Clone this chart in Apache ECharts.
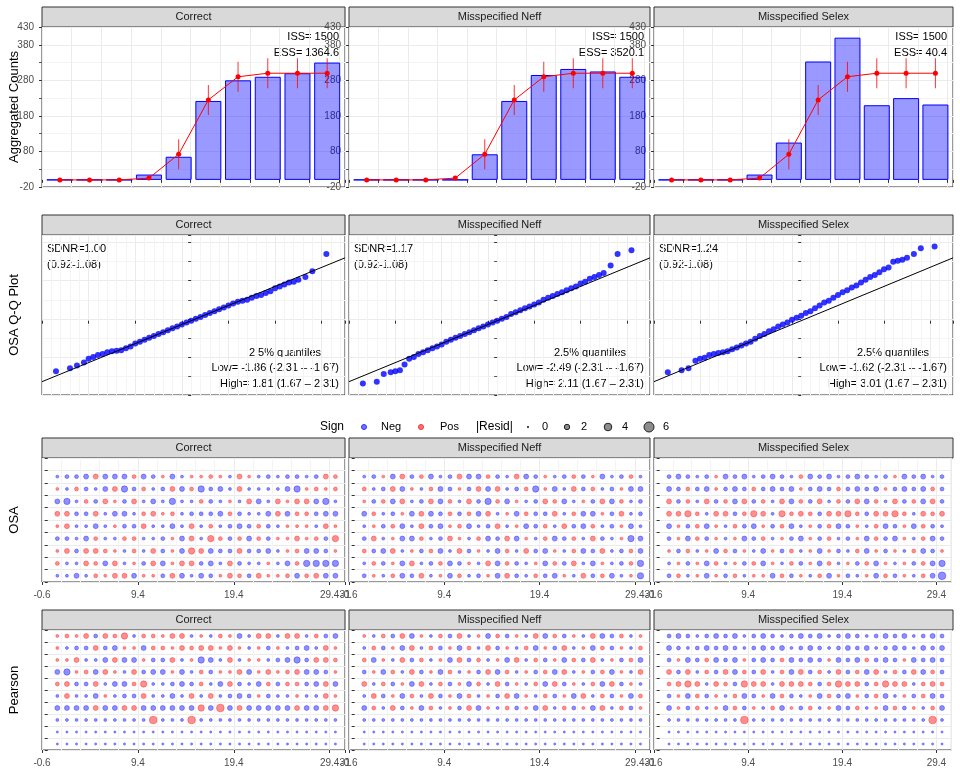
<!DOCTYPE html><html><head><meta charset="utf-8">
<script src="https://cdn.jsdelivr.net/npm/echarts@6/dist/echarts.min.js"></script>
<style>body{margin:0}#c{width:960px;height:768px}</style></head><body><div id="c"></div><script>
const panelTitles=["Correct","Misspecified Neff","Misspecified Selex"];
const ages=[1,2,3,4,5,6,7,8,9,10];
const obsCounts=[[0,0,0,15,65,222,280,290,300,330],[0,0,0,0,72,222,295,312,305,290],[0,0,0,15,105,333,400,210,230,212]];
const expCounts=[0,0,0,5,72,225,290,300,300,300];
const issTxt=["ISS= 1500","ISS= 1500","ISS= 1500"];
const essTxt=["ESS= 1364.6","ESS= 3520.1","ESS= 40.4"];
const qqTheo=[-2.9,-2.6,-2.45,-2.3,-2.2,-2.1,-2.0,-1.9,-1.8,-1.7,-1.6,-1.5,-1.4,-1.3,-1.2,-1.1,-1.0,-0.9,-0.8,-0.7,-0.6,-0.5,-0.4,-0.3,-0.2,-0.1,0,0.1,0.2,0.3,0.4,0.5,0.6,0.7,0.8,0.9,1.0,1.1,1.2,1.3,1.4,1.5,1.6,1.7,1.8,1.9,2.0,2.1,2.2,2.3,2.45,2.6,2.9];
const qqCorrect=[-2.65,-2.5,-2.35,-2.2,-2.0,-1.9,-1.8,-1.75,-1.65,-1.6,-1.58,-1.55,-1.45,-1.35,-1.2,-1.1,-1.0,-0.9,-0.8,-0.7,-0.6,-0.5,-0.4,-0.3,-0.2,-0.1,0.0,0.1,0.2,0.3,0.4,0.5,0.6,0.7,0.8,0.9,1.0,1.05,1.1,1.2,1.3,1.35,1.45,1.55,1.7,1.8,1.9,2.0,2.05,2.15,2.3,2.6,3.5];
const qqNeff=[-3.3,-3.2,-2.8,-2.7,-2.65,-2.6,-2.3,-2.0,-1.9,-1.75,-1.65,-1.55,-1.45,-1.35,-1.25,-1.1,-1.0,-0.9,-0.8,-0.7,-0.6,-0.5,-0.4,-0.3,-0.2,-0.1,0.0,0.1,0.2,0.35,0.45,0.55,0.65,0.75,0.85,0.95,1.1,1.2,1.3,1.4,1.5,1.6,1.7,1.8,1.95,2.05,2.2,2.3,2.4,2.5,2.9,3.5,3.7];
const qqSelex=[-2.7,-2.6,-2.5,-2.1,-2.0,-1.95,-1.8,-1.75,-1.7,-1.65,-1.6,-1.5,-1.4,-1.3,-1.2,-1.1,-0.95,-0.8,-0.7,-0.55,-0.45,-0.3,-0.2,-0.1,0.05,0.15,0.26,0.4,0.5,0.65,0.8,0.95,1.05,1.2,1.35,1.5,1.6,1.75,1.85,2.0,2.15,2.3,2.4,2.55,2.7,2.8,3.1,3.15,3.2,3.3,3.5,3.8,3.9];
const sdnrTxt=["SDNR=1.00","SDNR=1.17","SDNR=1.24"];
const lowTxt=["Low= -1.86 (-2.31 – -1.67)","Low= -2.49 (-2.31 – -1.67)","Low= -1.62 (-2.31 – -1.67)"];
const highTxt=["High= 1.81 (1.67 – 2.31)","High= 2.11 (1.67 – 2.31)","High= 3.01 (1.67 – 2.31)"];
// residual codes: rows are ages 10..1 ; '0' tiny, '1'-'5' positive levels, 'a'-'e' negative levels
const osaCorrect=["","abbc3ccc2cb1ca1121a31ababbab32","1a2bac3db2ab3c2dbca3aaaacd1212","cda2b31b3acadaa2ba1a3ca3133cda","33bb3acca2312abbbc2baac3c22bcc","13aaca1bb3aaca3a2abcb2ba111a31","bbac2aa22aab1c3a42b2c2b11312b4","13b3321a2a3b1c43cbb3bbca12ccb1","2aa32c3a1b3c133bca3baa1ac2dddd","aaca2133c11b3cacb132b3112c23cc"];
const osaNeff=["","ab1c3b2cab3cc2ba3cb1ab2b1cab2a","2ab3c1a2cb1b3c3ab2d1ca3b2ab1cc","1b2c3ab3c2a3bd2c1ab32ca1b3c2ab","c2ab1c3cb2b2c3a1c2bb3a2cc1b3ab","a1b2ca3bc12cab3a1cb2a3bc2ab1ca","b3a1cc2ab31a2cb3c1a2cb2a3ba1dc","2bc3a1b2ca3b1ac2a3bc1a2cb3ab2c","a2b1c3ab2cb1a3c2ba1c2b3ac1ab2d","b1a2cb3a1c2ab1c3ba2bc1a3b2ca1d"];
const osaSelex=["","bcbab1cbcabcba2cbcabcbab1cbcab","cb2bc1bcb2bcbc1bcb2bcbc1bcbc2b","3b2a3b2c3b2a3c2b3a2b3c2a3b2c3b","3342a33b243a4232b3342b3342a323","c1b2c1a2bc1b2ca1b2cb1a2cb1c2ba","b1c2b1a1cb2a1bc1b2ab1c2bc1a2cb","1b2a1c2b1ac1b2a1c1ba2c1b1a2cb1","a1b1c2a1b2c1a2b1c2a1b2c1a1b2cd","b2a1c1b2a11c2b1a2c1ba1c2b1a2ce"];
const pearCorrect=["1213b324a22133a1a21ca33a33a2bc","1abb3bc11c2213233131a1b1abca31","113aac3cc1bb3a1dca3a11abcdb332","cd12c31a3bcc1ca2b113c13123ccb1","23bb3acc24aabcb2ac3bac2b22bc3c","a3aac1abb3aaca3a3abcb1baa1aa31","cccc3cc33cccccc4c5c3ccccc3cc34","aaaaaaaaaa5aaa5aaaaaaaaaaaaaaa","000000000000000000000000000000","000000000000000000000000000000"];
const pearNeff=["1a2b3c1a2b3a1c2b1a3c2b1a3cb2a1","a2b1c3a2b1c2a3b1a2c1b3a1c2b1a2","2c1a3b2a1c3b2a1c3a2b1c2b3a1b2c","b1c2a3b1c2a1b3c2a1b2c3a1b2c1a3","3a2b1c3a2b1c2a3b1a2c3b1a2c3b1a","a3b1c2a3b1c2a1b3c1a2b1c3a2b1c2","c2a3b1c2a1b3c1a2b1c3a2b1c3a2b1","aaaaaaaaaaaaaaaaaaaaaaaaaaaaaa","000000000000000000000000000000","000000000000000000000000000000"];
const pearSelex=["bcbabcbcabcbabcbcabcbabcbcabcb","cbabcbcbabcbcabcbabcbcabcbacbc","b1cb2cbc1bcb2cbcb1cbc2bcb1cbcb","3b3a2b3c2b3a2c3b2a3b2c3a2b3c2b","2343a32b433a3332b2433b2433a232","b1c2b1a2cb1c2ba1c2bc1b2ca1b2cb","c1b2a1c2b1a2c1b2a1cb2a1c2b1a2c","aaaaaaaa5aaaaaaaaaaaaaaaaaaa5a","000000000000000000000000000000","000000000000000000000000000000"];

const qqSets=[qqCorrect,qqNeff,qqSelex];
const osaSets=[osaCorrect,osaNeff,osaSelex];
const pearSets=[pearCorrect,pearNeff,pearSelex];
const levels=[0.1,0.7,1.4,2.2,3.2,4.2];
function decode(rows){const out=[];rows.forEach((s,i)=>{const age=10-i;for(let k=0;k<s.length;k++){const ch=s[k];let v;if(ch==='0')v=-0.1;else if(ch>='1'&&ch<='5')v=levels[+ch];else v=-levels[ch.charCodeAt(0)-96];out.push([k+1,age,v]);}});return out;}
const colL=[42,349,654],colW=[303,301,299];
const rowT=[27,235,458,630],rowH=[160,160,124,120];
const grids=[],xs=[],ys=[],series=[],gfx=[];
const gl={show:true,lineStyle:{color:'#ebebeb'}};
const axLab={color:'#4d4d4d',fontSize:10,fontFamily:'Liberation Sans'};
function addPanel(r,c,xa,ya){const i=grids.length;grids.push({left:colL[c],top:rowT[r],width:colW[c],height:rowH[r],show:true,borderColor:'#333',borderWidth:1,backgroundColor:'#fff'});
xs.push(Object.assign({gridIndex:i,type:'value',splitLine:gl,minorTick:{show:false},minorSplitLine:{show:true,lineStyle:{color:'#f4f4f4'}},axisLine:{show:false},axisTick:{show:true,length:3,lineStyle:{color:'#333'}},axisLabel:axLab},xa));
ys.push(Object.assign({gridIndex:i,type:'value',splitLine:gl,minorSplitLine:{show:true,lineStyle:{color:'#f4f4f4'}},axisLine:{show:false},axisTick:{show:true,length:3,lineStyle:{color:'#333'}},axisLabel:axLab},ya));
gfx.push({type:'rect',shape:{x:colL[c],y:rowT[r]-20,width:colW[c],height:20},style:{fill:'#d9d9d9',stroke:'#333',lineWidth:1}});
gfx.push({type:'text',x:colL[c]+colW[c]/2,y:rowT[r]-10,style:{text:panelTitles[c],fill:'#1a1a1a',font:'11px Liberation Sans',align:'center',verticalAlign:'middle'}});
return i;}
const txtStyle={color:'#000',fontSize:11,fontFamily:'Liberation Sans'};
for(let c=0;c<3;c++){
 let i=addPanel(0,c,{min:0.4,max:10.6,interval:1,minorSplitLine:{show:false},axisLabel:Object.assign({},axLab,{formatter:v=>Number.isInteger(v)?v:''})},{min:-20,max:430,interval:100,minorTick:{show:true,splitNumber:2}});
 series.push({type:'bar',xAxisIndex:i,yAxisIndex:i,barWidth:26,data:ages.map((a,k)=>[a,obsCounts[c][k]]),itemStyle:{color:'rgba(0,0,255,0.4)',borderColor:'#0000ff',borderWidth:1},silent:true});
 series.push({type:'line',xAxisIndex:i,yAxisIndex:i,data:ages.map((a,k)=>[a,expCounts[k]]),lineStyle:{color:'#ff0000',width:1},itemStyle:{color:'#ff0000'},symbol:'circle',symbolSize:5,z:5});
 series.push({type:'scatter',xAxisIndex:i,yAxisIndex:i,data:ages.map((a,k)=>[a,expCounts[k]]),symbol:'rect',symbolSize:(v,p)=>[1,v[1]>50?30:4],itemStyle:{color:'#ff0000'},z:4});
 gfx.push({type:'text',x:colL[c]+colW[c]-6,y:rowT[0]+4,style:{text:issTxt[c],fill:'#000',font:'11px Liberation Sans',align:'right'}});
 gfx.push({type:'text',x:colL[c]+colW[c]-6,y:rowT[0]+20,style:{text:essTxt[c],fill:'#000',font:'11px Liberation Sans',align:'right'}});
 i=addPanel(1,c,{min:-3.2,max:3.3,interval:1,minorSplitLine:{show:true,lineStyle:{color:'#f4f4f4'}},axisLabel:Object.assign({},axLab,{formatter:v=>Number.isInteger(v)?v:''})},{min:-3.9,max:4.5,interval:2,minorTick:{show:true,splitNumber:2},axisLabel:Object.assign({},axLab,{formatter:v=>v%2===0?v:''})});
 series.push({type:'scatter',xAxisIndex:i,yAxisIndex:i,data:qqTheo.map((t,k)=>[t,qqSets[c][k]]),symbolSize:6,itemStyle:{color:'#0000ff'}});
 series.push({type:'line',xAxisIndex:i,yAxisIndex:i,data:[[-3.2,-3.2],[3.3,3.3]],symbol:'none',lineStyle:{color:'#000',width:1},silent:true});
 gfx.push({type:'text',x:colL[c]+5,y:rowT[1]+6,style:{text:sdnrTxt[c]+'\n(0.92-1.08)',fill:'#000',font:'11px Liberation Sans',lineHeight:16}});
 gfx.push({type:'text',x:colL[c]+colW[c]-60,y:rowT[1]+112,style:{text:'2.5% quantiles',fill:'#000',font:'11px Liberation Sans',align:'center'}});
 gfx.push({type:'text',x:colL[c]+colW[c]-6,y:rowT[1]+127,style:{text:lowTxt[c],fill:'#000',font:'11px Liberation Sans',align:'right'}});
 gfx.push({type:'text',x:colL[c]+colW[c]-6,y:rowT[1]+143,style:{text:highTxt[c],fill:'#000',font:'11px Liberation Sans',align:'right'}});
 [[2,osaSets[c]],[3,pearSets[c]]].forEach(([r,set])=>{
  const j=addPanel(r,c,{min:-0.6,max:31,interval:10,minorSplitLine:{show:true,lineStyle:{color:'#f4f4f4'}}},{min:0.5,max:10.5,interval:1,minorSplitLine:{show:false},axisLabel:Object.assign({},axLab,{formatter:v=>Number.isInteger(v)?v:''})});
  const d=decode(set);
  series.push({type:'scatter',xAxisIndex:j,yAxisIndex:j,data:d.map(p=>({value:p,itemStyle:{color:p[2]>=0?'rgba(255,0,0,0.55)':'rgba(0,0,255,0.55)',borderColor:p[2]>=0?'#ff3030':'#3030ff',borderWidth:0.6}})),symbolSize:v=>2+1.35*Math.abs(v[2])});
 });
}
const yNames=[["Aggregated Counts",107],["OSA Q-Q Plot",315],["OSA",520],["Pearson",690]];
yNames.forEach(([t,y])=>gfx.push({type:'text',x:14,y:y,rotation:Math.PI/2,style:{text:t,fill:'#000',font:'13px Liberation Sans',align:'center',verticalAlign:'middle'}}));
const ly=427;
gfx.push({type:'text',x:320,y:ly,style:{text:'Sign',font:'12px Liberation Sans',fill:'#000',verticalAlign:'middle'}});
gfx.push({type:'circle',shape:{cx:364,cy:ly,r:2.5},style:{fill:'rgba(0,0,255,0.55)',stroke:'#3030ff'}});
gfx.push({type:'text',x:381,y:ly,style:{text:'Neg',font:'11px Liberation Sans',fill:'#000',verticalAlign:'middle'}});
gfx.push({type:'circle',shape:{cx:421,cy:ly,r:2.5},style:{fill:'rgba(255,0,0,0.55)',stroke:'#ff3030'}});
gfx.push({type:'text',x:440,y:ly,style:{text:'Pos',font:'11px Liberation Sans',fill:'#000',verticalAlign:'middle'}});
gfx.push({type:'text',x:476,y:ly,style:{text:'|Resid|',font:'12px Liberation Sans',fill:'#000',verticalAlign:'middle'}});
[[528,0.7,'0'],[567,2.7,'2'],[608,3.8,'4'],[649,5,'6']].forEach(([x,r,t])=>{gfx.push({type:'circle',shape:{cx:x,cy:ly,r:r},style:{fill:'rgba(0,0,0,0.45)',stroke:'#222'}});gfx.push({type:'text',x:x+14,y:ly,style:{text:t,font:'11px Liberation Sans',fill:'#000',verticalAlign:'middle'}});});
const ch=echarts.init(document.getElementById('c'));
ch.setOption({animation:false,backgroundColor:'#fff',grid:grids,xAxis:xs,yAxis:ys,series:series,graphic:{elements:gfx}});
</script></body></html>
